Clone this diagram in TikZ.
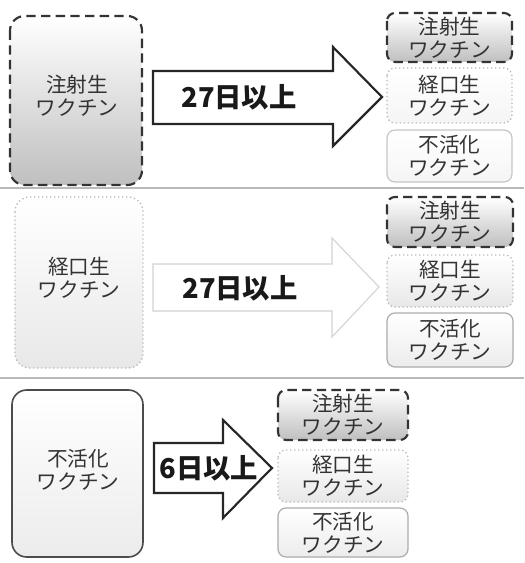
\documentclass[tikz,border=0pt]{standalone}
\usepackage{fontspec}
\setmainfont{Noto Sans CJK JP}
\usetikzlibrary{positioning}

\begin{document}
\begin{tikzpicture}[x=0.75pt,y=-0.75pt,
    injbox/.style={draw=black!80, line width=1.6pt, dash pattern=on 7pt off 4pt, top color=white, bottom color=gray!50},
    oralbox/.style={draw=gray!55, line width=1pt, dotted, top color=white, bottom color=gray!18},
    inactbox/.style={draw=gray!65, line width=0.9pt, top color=white, bottom color=gray!15},
    bigbox/.style={rounded corners=11pt},
    smallbox/.style={rounded corners=6pt},
    vname/.style={align=center, font=\fontsize{15.5}{17.5}\selectfont, text=black!80},
    days/.style={font=\fontsize{20.5}{23}\selectfont\bfseries, text=black!90},
    fatarrow/.style={draw=black!85, line width=1.6pt, fill=white, line join=miter},
    sep/.style={draw=gray!55, line width=0.8pt}]
            \useasboundingbox (0,0) rectangle (524,563);

            % Injection vaccine row
            \draw[injbox, bigbox] (10,16) rectangle (142,185);
            \node[vname] (inj) at (77,96) {注射生\\ワクチン};

            \draw[fatarrow] (153,71) -- (333,71) -- (333,47) -- (382,97) -- (333,146) -- (333,124) -- (153,124) -- cycle;
            \node[days] (injdays) at (239,97) {27日以上};

            \draw[injbox, smallbox] (387,13) rectangle (512,62);
            \node[vname] (injA) at (449.5,37.5) {注射生\\ワクチン};
            \draw[oralbox, smallbox, bottom color=gray!8] (387,68) rectangle (512,123);
            \node[vname] (injB) at (449.5,95.5) {経口生\\ワクチン};
            \draw[inactbox, smallbox, draw=gray!45, bottom color=gray!8] (387,130) rectangle (512,182);
            \node[vname] (injC) at (449.5,156) {不活化\\ワクチン};

            \draw[sep] (0,188) -- (524,188);

            % Oral vaccine row
            \draw[oralbox, bigbox] (15,197) rectangle (143,368);
            \node[vname] (oral) at (79,278) {経口生\\ワクチン};

            \draw[fatarrow, draw=gray!35, line width=0.8pt] (153,264) -- (332,264) -- (332,238) -- (379,287) -- (332,337) -- (332,311) -- (153,311) -- cycle;
            \node[days] (oraldays) at (240,288) {27日以上};

            \draw[injbox, smallbox] (387,197) rectangle (513,247);
            \node[vname] (oralA) at (450,222) {注射生\\ワクチン};
            \draw[oralbox, smallbox] (387,255) rectangle (513,307);
            \node[vname] (oralB) at (450,281) {経口生\\ワクチン};
            \draw[inactbox, smallbox] (387,313) rectangle (513,367);
            \node[vname] (oralC) at (450,340) {不活化\\ワクチン};

            \draw[sep] (0,378) -- (524,378);

            % Inactivated vaccine row
            \draw[inactbox, bigbox, draw=black!70, line width=1.2pt] (12,390) rectangle (143,557);
            \node[vname] (inact) at (78,470) {不活化\\ワクチン};

            \draw[fatarrow] (154,443) -- (223,443) -- (223,420) -- (272,468) -- (223,518) -- (223,493) -- (154,493) -- cycle;
            \node[days] (inactdays) at (209,468) {6日以上};

            \draw[injbox, smallbox] (278,390) rectangle (408,440);
            \node[vname] (inactA) at (343,415) {注射生\\ワクチン};
            \draw[oralbox, smallbox] (278,450) rectangle (408,502);
            \node[vname] (inactB) at (343,476) {経口生\\ワクチン};
            \draw[inactbox, smallbox] (278,508) rectangle (408,557);
            \node[vname] (inactC) at (343,532.5) {不活化\\ワクチン};
        \end{tikzpicture}
\end{document}
